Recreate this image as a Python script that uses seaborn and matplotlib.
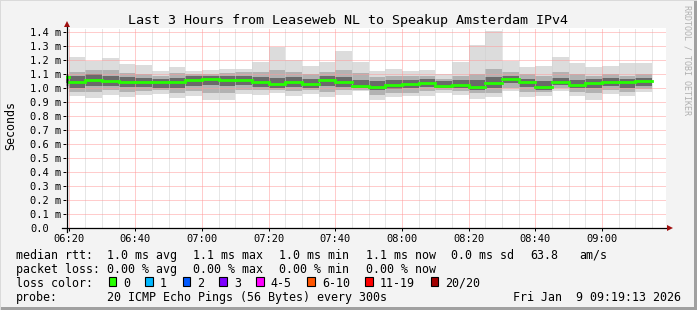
import numpy as np
import pandas as pd
import matplotlib
matplotlib.use("Agg")
import matplotlib.pyplot as plt
import seaborn as sns
from matplotlib.patches import Rectangle
from matplotlib.lines import Line2D
from matplotlib.transforms import blended_transform_factory, offset_copy

# ---------------- data ----------------
title = "Last 3 Hours from Leaseweb NL to Speakup Amsterdam IPv4"
# 5-minute bins, start minute relative to 06:20
bin_start = list(range(-5, 175, 5))
median_ms = [1.079, 1.043, 1.061, 1.054, 1.043, 1.043, 1.043, 1.043, 1.059, 1.069,
             1.059, 1.059, 1.048, 1.031, 1.048, 1.031, 1.059, 1.048, 1.017, 1.012,
             1.024, 1.031, 1.040, 1.016, 1.024, 1.012, 1.040, 1.069, 1.048, 1.012,
             1.048, 1.026, 1.040, 1.048, 1.048, 1.055]
max_ms = [1.100, 1.226, 1.197, 1.214, 1.174, 1.166, 1.126, 1.152, 1.126, 1.133,
          1.140, 1.140, 1.190, 1.297, 1.202, 1.162, 1.190, 1.269, 1.190, 1.126,
          1.138, 1.126, 1.131, 1.100, 1.190, 1.309, 1.407, 1.197, 1.150, 1.160,
          1.224, 1.181, 1.152, 1.162, 1.181, 1.181]
min_ms = [1.000, 0.945, 0.931, 0.952, 0.938, 0.950, 0.962, 0.931, 0.948, 0.919,
          0.914, 0.962, 0.955, 0.966, 0.948, 0.962, 0.938, 0.955, 0.979, 0.916,
          0.940, 0.943, 0.948, 0.966, 0.955, 0.926, 0.940, 0.979, 0.938, 0.948,
          0.979, 0.948, 0.919, 0.962, 0.943, 0.974]
mid_hi = [1.095, 1.120, 1.130, 1.130, 1.110, 1.100, 1.090, 1.110, 1.100, 1.105,
          1.110, 1.115, 1.120, 1.130, 1.120, 1.100, 1.120, 1.130, 1.110, 1.080,
          1.090, 1.090, 1.090, 1.070, 1.090, 1.100, 1.140, 1.120, 1.100, 1.090,
          1.120, 1.100, 1.090, 1.100, 1.090, 1.100]
mid_lo = [1.020, 0.975, 0.975, 0.985, 0.975, 0.980, 0.985, 0.965, 0.980, 0.970,
          0.970, 0.990, 0.985, 0.990, 0.980, 0.990, 0.975, 0.985, 0.990, 0.955,
          0.970, 0.970, 0.980, 0.990, 0.980, 0.965, 0.970, 1.000, 0.975, 0.975,
          1.000, 0.975, 0.970, 0.990, 0.975, 0.995]
core_hi = [1.090, 1.090, 1.100, 1.090, 1.080, 1.075, 1.070, 1.075, 1.085, 1.090,
           1.090, 1.085, 1.080, 1.075, 1.080, 1.070, 1.085, 1.080, 1.060, 1.050,
           1.060, 1.060, 1.070, 1.050, 1.060, 1.060, 1.080, 1.090, 1.070, 1.050,
           1.075, 1.060, 1.065, 1.075, 1.070, 1.075]
core_lo = [1.040, 1.005, 1.015, 1.020, 1.010, 1.010, 1.005, 1.005, 1.020, 1.025,
           1.015, 1.025, 1.010, 1.005, 1.010, 1.005, 1.015, 1.010, 1.000, 0.985,
           0.995, 1.000, 1.010, 1.000, 1.000, 0.990, 1.005, 1.040, 1.010, 0.990,
           1.025, 1.000, 1.005, 1.015, 1.000, 1.020]

x_major = [0, 20, 40, 60, 80, 100, 120, 140, 160]
x_labels = ["06:20", "06:40", "07:00", "07:20", "07:40", "08:00", "08:20", "08:40", "09:00"]
y_ticks = [0.0, 0.1, 0.2, 0.3, 0.4, 0.5, 0.6, 0.7, 0.8, 0.9, 1.0, 1.1, 1.2, 1.3, 1.4]

loss_labels = ["0", "1", "2", "3", "4-5", "6-10", "11-19", "20/20"]
loss_colors = ["#26ff00", "#00b8ff", "#0059ff", "#7e00ff", "#ff00ff", "#ff5500", "#ff0000", "#a10000"]

# ---------------- figure ----------------
W, H = 697, 310
plt.rcParams["font.family"] = ["DejaVu Sans Mono"]
fig = plt.figure(figsize=(W / 100, H / 100), dpi=100, facecolor="#f3f3f3")

def fx(x):
    return x / W

def fy(y):
    return 1 - y / H

# frame
fig.patches.append(Rectangle((fx(694), 0), 3 / W, 1, transform=fig.transFigure,
                             color="#a0a0a0", lw=0, zorder=0))
fig.patches.append(Rectangle((0, 0), 1, 3 / H, transform=fig.transFigure,
                             color="#a0a0a0", lw=0, zorder=0))
fig.patches.append(Rectangle((0, fy(1)), 1, 1 / H, transform=fig.transFigure,
                             color="#dadada", lw=0, zorder=0))
fig.patches.append(Rectangle((0, 0), 1 / W, 1, transform=fig.transFigure,
                             color="#dadada", lw=0, zorder=0))

ax = fig.add_axes([fx(66), fy(228.3), 600 / W, 200 / H])
ax.set_facecolor("white")
x0 = -47 / 60
ax.set_xlim(x0, x0 + 180)
ax.set_ylim(0, 1.4286)
for s in ax.spines.values():
    s.set_visible(False)

# smoke
bs = np.array(bin_start, dtype=float)
for lo, hi, col in [(min_ms, max_ms, "#dcdcdc"), (mid_lo, mid_hi, "#b2b2b2"),
                    (core_lo, core_hi, "#6a6a6a")]:
    lo = np.array(lo); hi = np.array(hi)
    ax.bar(bs, hi - lo, bottom=lo, width=5, align="edge", color=col,
           linewidth=0, antialiased=False, zorder=1)

# grid
for m in range(0, 180, 5):
    if m in x_major:
        ax.axvline(m, color="#ff9a9a", lw=0.72, ls=(0, (1, 1)), zorder=3)
    else:
        ax.axvline(m, color="#cfcfcf", lw=0.72, ls=(0, (1, 1)), zorder=3)
for v in y_ticks[1:]:
    ax.axhline(v, color="#ff9a9a", lw=0.72, ls=(0, (1, 1)), zorder=3)

# median via seaborn (one horizontal segment per bin)
rows = []
for i, (s, m) in enumerate(zip(bin_start, median_ms)):
    rows.append({"x": s, "y": m, "bin": i})
    rows.append({"x": s + 5, "y": m, "bin": i})
df = pd.DataFrame(rows)
sns.lineplot(data=df, x="x", y="y", units="bin", estimator=None, color="#26ff00",
             lw=2.0, ax=ax, legend=False, zorder=4)
ax.set_xlim(x0, x0 + 180)
ax.set_ylim(0, 1.4286)
ax.set_xlabel("")
ax.set_ylabel("")

ax.set_xticks(x_major)
ax.set_yticks(y_ticks)
ax.tick_params(labelleft=False, labelbottom=False, length=2, width=0.72,
               color="black", direction="out")

# tick labels (manual, monospace)
ty = offset_copy(blended_transform_factory(fig.transFigure, ax.transData),
                 fig=fig, x=0, y=-4, units="dots")
for v in y_ticks:
    lab = "0.0" if v == 0 else f"{v:.1f} m"
    fig.text(fx(30), v, lab, transform=ty, ha="left", va="baseline", fontsize=7.5,
             color="black")
tx = blended_transform_factory(ax.transData, fig.transFigure)
for m, lab in zip(x_major, x_labels):
    fig.text(m, fy(242), lab, transform=tx, ha="center", va="baseline", fontsize=7.5)

# axis lines and arrows
fig.add_artist(Line2D([fx(62), fx(668)], [fy(228.3), fy(228.3)], color="black", lw=0.9))
fig.add_artist(Line2D([fx(66.5), fx(66.5)], [fy(232), fy(25)], color="black", lw=0.9))
fig.add_artist(Line2D([fx(670)], [fy(228.3)], marker=">", markersize=4.5, color="#a01010",
                      markeredgewidth=0))
fig.add_artist(Line2D([fx(66.5)], [fy(23.5)], marker="^", markersize=4.5, color="#a01010",
                      markeredgewidth=0))

# title and labels
fig.text(fx(347.5), fy(24), title, ha="center", va="baseline", fontsize=9.6)
fig.text(fx(11), fy(126), "Seconds", rotation=90, ha="center", va="center", fontsize=8.4)
fig.text(fx(687), fy(60), "RRDTOOL / TOBI OETIKER", rotation=270, ha="center", va="center",
         fontsize=6, color="#b0b0b0")

# legend block
fs = 8.4
line1 = [(16, "median rtt:"), (107.3, "1.0 ms avg"), (193.3, "1.1 ms max"),
         (279.3, "1.0 ms min"), (365.7, "1.1 ms now"), (451, "0.0 ms sd"),
         (530, "63.8"), (579.3, "am/s")]
line2 = [(16, "packet loss:"), (107.3, "0.00 % avg"), (193.3, "0.00 % max"),
         (279.3, "0.00 % min"), (365.7, "0.00 % now")]
line4 = [(16, "probe:"), (107.3, "20 ICMP Echo Pings (56 Bytes) every 300s"),
         (513.3, "Fri Jan  9 09:19:13 2026")]
for x, t in line1:
    fig.text(fx(x), fy(259), t, ha="left", va="baseline", fontsize=fs)
for x, t in line2:
    fig.text(fx(x), fy(273.3), t, ha="left", va="baseline", fontsize=fs)
for x, t in line4:
    fig.text(fx(x), fy(301), t, ha="left", va="baseline", fontsize=fs)
fig.text(fx(16), fy(286.7), "loss color:", ha="left", va="baseline", fontsize=fs)
box_x = [108.7, 145.3, 182.7, 219.3, 256, 307.3, 365.3, 430.7]
for bx, lab, col in zip(box_x, loss_labels, loss_colors):
    fig.patches.append(Rectangle((fx(bx), fy(285.7)), 7.5 / W, 8.5 / H,
                                 transform=fig.transFigure, facecolor=col,
                                 edgecolor="black", lw=0.8))
    fig.text(fx(bx + 14.6), fy(286.7), lab, ha="left", va="baseline", fontsize=fs)

fig.savefig("out.png", dpi=100, facecolor=fig.get_facecolor())
